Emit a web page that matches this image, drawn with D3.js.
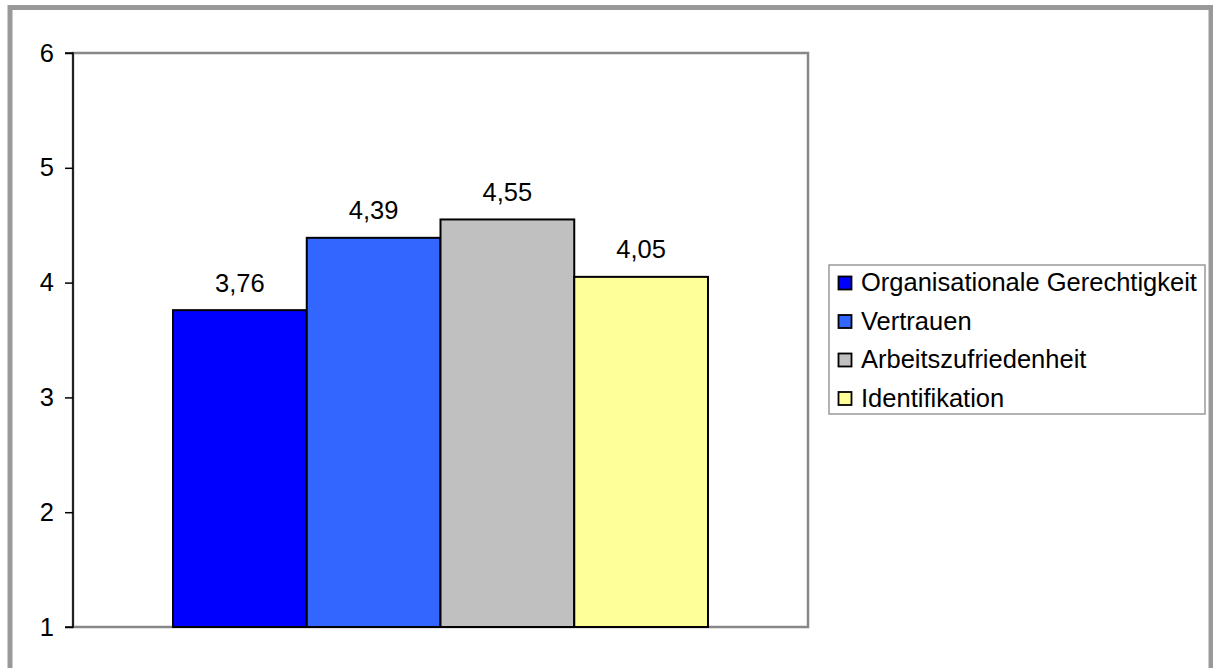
<!DOCTYPE html>
<html><head><meta charset="utf-8">
<script src="https://cdn.jsdelivr.net/npm/d3@7"></script>
<style>body{margin:0;background:#fff;}svg{display:block;font-family:Arial,"Liberation Sans",sans-serif;}</style>
</head><body><svg id="c" width="1213" height="668"></svg>
<script>
const categories = ["Organisationale Gerechtigkeit","Vertrauen","Arbeitszufriedenheit","Identifikation"];
const values = [3.76, 4.39, 4.55, 4.05];
const labels = ["3,76","4,39","4,55","4,05"];
const colors = ["#0000FF","#3366FF","#C0C0C0","#FFFF99"];
const yTicks = [1,2,3,4,5,6];

const FS = 25.5;
const svg = d3.select("#c");
// outer frame
svg.append("rect").attr("x",10).attr("y",7.5).attr("width",1201).attr("height",700)
  .attr("fill","#fff").attr("stroke","#999").attr("stroke-width",5);

const L=73, R=808, T=53, B=627;
const y = d3.scaleLinear().domain([1,6]).range([B,T]);
const x = d3.scaleBand().domain(categories).range([173,708]).padding(0);

// plot area border
svg.append("rect").attr("x",L).attr("y",T).attr("width",R-L).attr("height",B-T)
  .attr("fill","#fff").attr("stroke","#888").attr("stroke-width",2.5);

svg.selectAll("rect.bar").data(categories).enter().append("rect").attr("class","bar")
  .attr("x",d=>x(d)).attr("width",x.bandwidth())
  .attr("y",(d,i)=>y(values[i])).attr("height",(d,i)=>B-y(values[i]))
  .attr("fill",(d,i)=>colors[i]).attr("stroke","#000").attr("stroke-width",2);

svg.selectAll("text.val").data(categories).enter().append("text").attr("class","val")
  .attr("x",d=>x(d)+x.bandwidth()/2).attr("y",(d,i)=>y(values[i])-18.5)
  .attr("text-anchor","middle").attr("font-size",FS).text((d,i)=>labels[i]);

const yAxis = d3.axisLeft(y).tickValues(yTicks).tickSize(8).tickPadding(11).tickFormat(d3.format("d"));
const g = svg.append("g").attr("transform",`translate(${L},0)`).call(yAxis);
g.attr("font-size",FS).attr("font-family","Arial,'Liberation Sans',sans-serif");
g.select(".domain").attr("stroke","#000").attr("stroke-width",1.5).attr("d",`M-8,${T}H0V${B}H-8`);
g.selectAll(".tick line").attr("stroke","#000").attr("stroke-width",1.5);
g.selectAll(".tick text").attr("fill","#000");

// legend
const lg = svg.append("g");
lg.append("rect").attr("x",829).attr("y",265).attr("width",376).attr("height",149)
  .attr("fill","#fff").attr("stroke","#999").attr("stroke-width",1.5);
categories.forEach((c,i)=>{
  const base = 291 + i*38.5;
  lg.append("rect").attr("x",838.5).attr("y",base-14.5).attr("width",13).attr("height",13)
    .attr("fill",colors[i]).attr("stroke","#000").attr("stroke-width",1.8);
  lg.append("text").attr("x",861).attr("y",base).attr("font-size",FS).text(c);
});
</script></body></html>
